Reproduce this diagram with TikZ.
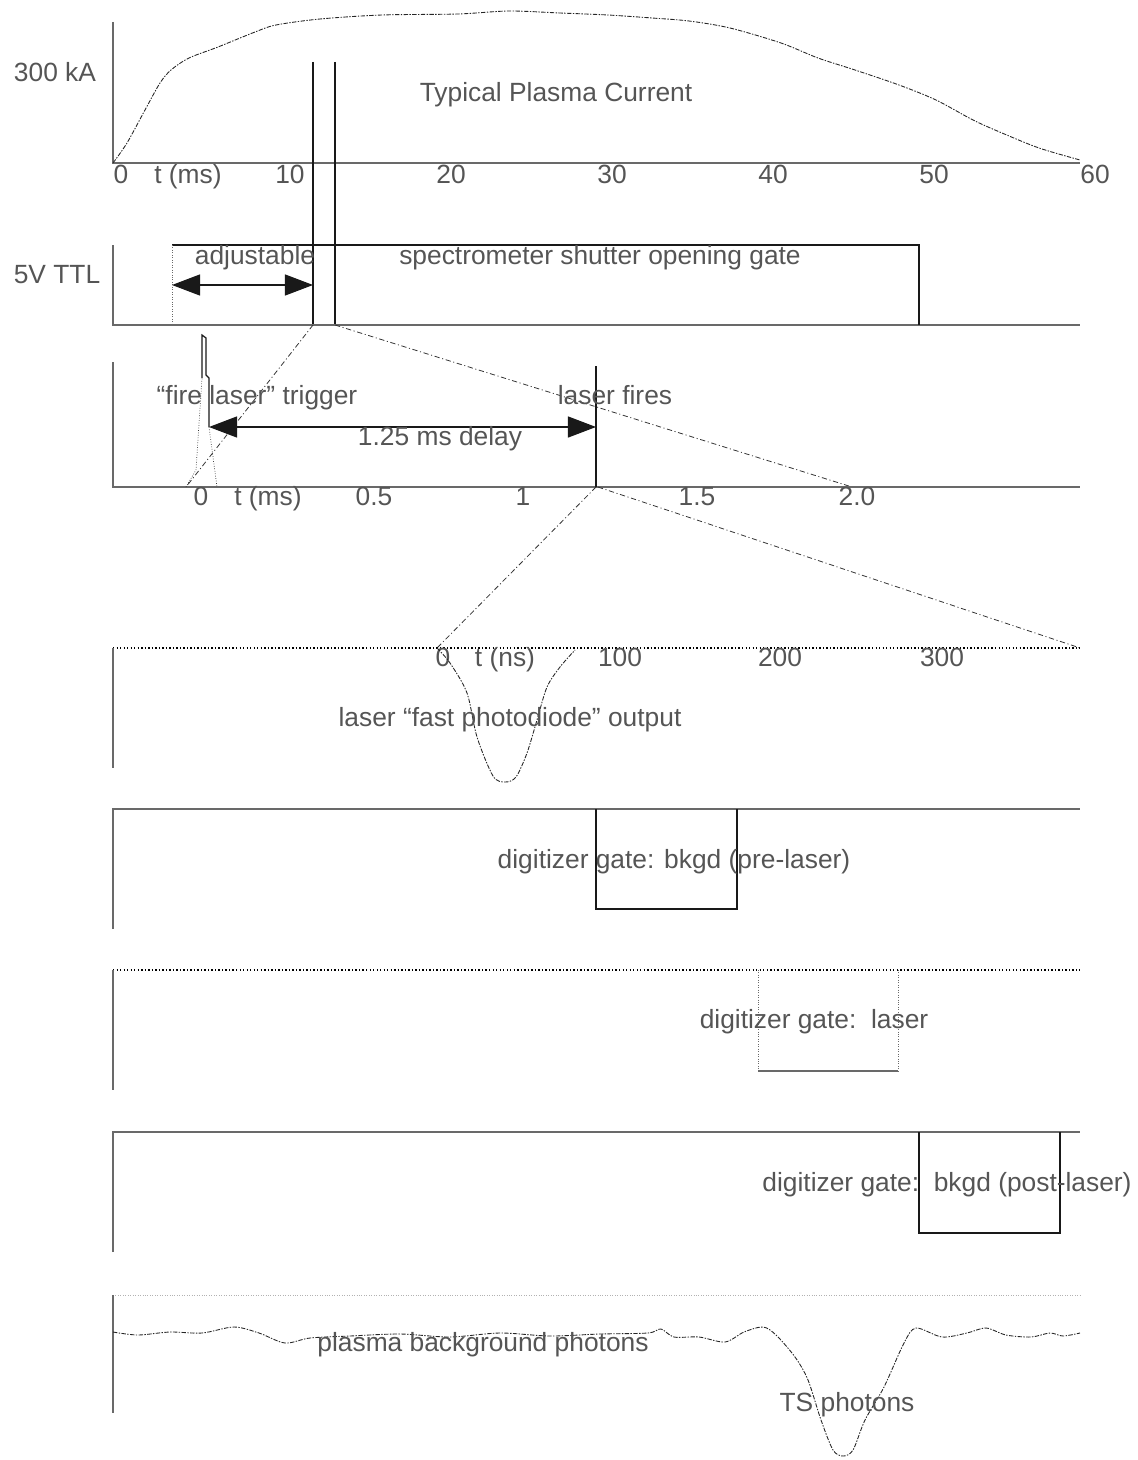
\documentclass[tikz,border=0pt]{standalone}
\usepackage{fontspec}
\setmainfont{Liberation Sans}
\usepackage{xcolor}
\usepackage{tikz}
\usetikzlibrary{arrows.meta, positioning, calc}
\definecolor{inkgray}{RGB}{85,85,85}
\definecolor{axisgray}{RGB}{105,105,105}

\begin{document}
\begin{tikzpicture}[
    x=0.02cm, y=-0.02cm,
    lbl/.style={font=\fontsize{15}{17}\selectfont, text=inkgray, inner sep=0pt,
                text height=0.72em, text depth=0.2em, yshift=-0.08cm},
    axis/.style={draw=axisgray, line width=0.6pt},
    edge/.style={draw=black!90, line width=0.7pt},
    gridline/.style={draw=black, line width=0.8pt, dash pattern=on 0.8pt off 1.2pt},
    zoomline/.style={draw=black!80, line width=0.45pt,
                     dash pattern=on 3pt off 1.5pt on 0.6pt off 1.5pt},
    trace/.style={draw=black!85, line width=0.5pt,
                  dash pattern=on 2.5pt off 0.8pt on 0.8pt off 0.8pt},
    span/.style={edge, {Triangle[length=16pt,width=12pt]}-{Triangle[length=16pt,width=12pt]}},
]
\useasboundingbox (0,0) rectangle (1138,1460);

% plasma current
\draw[axis] (113,22) -- (113,163) -- (1080,163);
\node[lbl] (amp) at (55,73) {300 kA};
\node[lbl] (curtitle) at (556,93) {Typical Plasma Current};
\foreach \x/\t in {121/0, 290/10, 451/20, 612/30, 773/40, 934/50, 1095/60}
  \node[lbl] (ms\t) at (\x,175) {\t};
\node[lbl] (msunit) at (188,175) {t (ms)};
\draw[trace] plot[smooth] coordinates {(113,163) (127,143) (145,110) (160,83)
  (171,70) (189,58) (218,47) (255,32) (276,25) (320,19) (382,15) (458,14)
  (509,11) (560,13) (608,15) (652,18) (689,21) (730,28) (781,43) (818,58)
  (855,70) (899,85) (936,100) (973,120) (1002,133) (1039,148) (1080,160)};
\coordinate (winL) at (313,325);
\coordinate (winR) at (335,325);
\draw[edge] (313,62) -- (winL);
\draw[edge] (335,62) -- (winR);

% shutter gate
\draw[axis] (113,245) -- (113,325) -- (1080,325);
\coordinate (gateS) at (172,245);
\coordinate (gateE) at (919,325);
\draw[edge] (gateS) -| (gateE);
\draw[densely dotted, axisgray] (gateS) -- (172,325);
\node[lbl] (ttl) at (57,275) {5V TTL};
\node[lbl] (adj) at (255,256) {adjustable};
\node[lbl] (shutter) at (600,256) {spectrometer shutter opening gate};
\draw[span] (172,285) -- (313,285);

% zoom to 0-2 ms
\coordinate (msL) at (186,487);
\coordinate (msR) at (852,487);
\draw[zoomline] (winL) -- (msL);
\draw[zoomline] (winR) -- (msR);

% trigger and delay
\draw[axis] (113,362) -- (113,487) -- (1080,487);
\draw[densely dotted, black!80] (msL) -- (196,470) -- (202,378);
\draw[edge] (202,378) -- (202,335) -- (206,338) -- (206,375) -- (209,378) -- (209,427);
\draw[densely dotted, black!80] (209,427) -- (217,487);
\coordinate (fire) at (596,487);
\draw[edge] (596,366) -- (fire);
\draw[span] (209,427) -- (596,427);
\node[lbl] (trig) at (257,396) {“fire laser” trigger};
\node[lbl] (fires) at (615,396) {laser fires};
\node[lbl] (delay) at (440,437) {1.25 ms delay};
\foreach \x/\t in {201/0, 374/0.5, 523/1, 697/1.5, 857/2.0}
  \node[lbl] at (\x,497) {\t};
\node[lbl] (msunit2) at (268,497) {t (ms)};

% zoom to ns
\coordinate (nsL) at (437,648);
\coordinate (nsR) at (1080,648);
\draw[zoomline] (fire) -- (nsL);
\draw[zoomline] (598,487) -- (nsR);

% photodiode
\draw[gridline] (113,648) -- (nsR);
\draw[axis] (113,648) -- (113,768);
\foreach \x/\t in {443/0, 620/100, 780/200, 942/300}
  \node[lbl] at (\x,658) {\t};
\node[lbl] (nsunit) at (505,658) {t (ns)};
\draw[trace] plot[smooth] coordinates {(nsL) (450,663) (467,693) (477,737)
  (493,776) (505,782) (516,777) (527,753) (537,720) (547,687) (560,667) (575,650)};
\node[lbl] (diode) at (510,718) {laser “fast photodiode” output};

% digitizer gates
\draw[axis] (113,929) -- (113,809) -- (1080,809);
\draw[edge] (596,809) -- (596,909) -- (737,909) -- (737,809);
\node[lbl] (pre) at (674,860) {digitizer gate: bkgd (pre-laser)};

\draw[gridline] (113,970) -- (1080,970);
\draw[axis] (113,970) -- (113,1090);
\draw[densely dotted, axisgray] (758,970) -- (758,1071);
\draw[densely dotted, axisgray] (898,970) -- (898,1071);
\draw[axis] (758,1071) -- (898,1071);
\node[lbl] (las) at (814,1020) {digitizer gate:\ \ laser};

\draw[axis] (113,1252) -- (113,1132) -- (1080,1132);
\draw[edge] (919,1132) -- (919,1233) -- (1060,1233) -- (1060,1132);
\node[lbl] (post) at (947,1183) {digitizer gate:\ \ bkgd (post-laser)};

% photons
\draw[densely dotted, black!30] (113,1295) -- (1080,1295);
\draw[axis] (113,1295) -- (113,1413);
\draw[trace] plot[smooth] coordinates {(113,1332) (138,1335) (170,1332) (202,1333)
  (234,1327) (259,1333) (285,1343) (310,1338) (350,1336) (400,1334) (450,1337)
  (500,1333) (550,1336) (600,1334) (648,1333) (661,1329) (674,1337) (699,1337)
  (725,1342) (744,1332) (763,1327) (776,1335) (795,1357) (808,1380) (821,1420)
  (833,1450) (843,1456) (853,1450) (865,1420) (884,1387) (904,1343) (916,1328)
  (942,1337) (967,1333) (986,1328) (1006,1335) (1031,1337) (1050,1333)
  (1063,1336) (1080,1333)};
\node[lbl] (bkgd) at (483,1343) {plasma background photons};
\node[lbl] (ts) at (847,1403) {TS photons};
\end{tikzpicture}
\end{document}
